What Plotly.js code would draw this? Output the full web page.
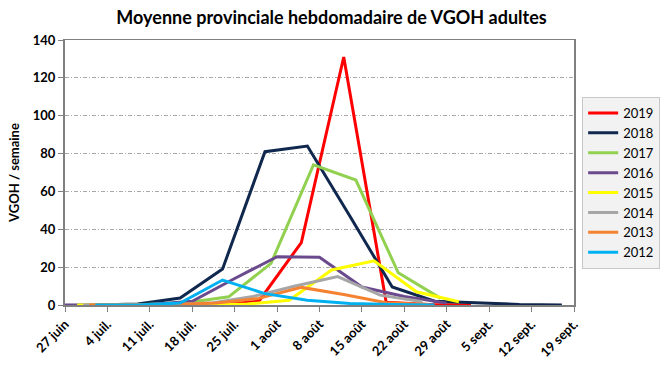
<!DOCTYPE html>
<html><head><meta charset="utf-8">
<script src="https://cdn.plot.ly/plotly-3.0.1.min.js"></script>
<style>html,body{margin:0;padding:0;background:#fff}#c{width:663px;height:367px}</style>
</head><body><div id="c"></div>
<script>
// Tick labels (weeks), positions in days since 27 June
const tickDays = [0,7,14,21,28,35,42,49,56,63,70,77,84];
const tickLabels = ['27 juin','4 juil.','11 juil.','18 juil.','25 juil.','1 août','8 août','15 août','22 août','29 août','5 sept.','12 sept.','19 sept.'];

const years = ['2019','2018','2017','2016','2015','2014','2013','2012'];

const days2019 = [25,32,39,46,53,60,67];
const vals2019 = [0,2,33,131,1.5,0.3,0];
const days2018 = [5,12,19,26,33,40,47,54,61,68,75,82];
const vals2018 = [0,0.5,3.7,19,81,84,47,9.5,2,1,0.3,0];
const days2017 = [6,13,20,27,34,41,48,55,62];
const vals2017 = [0,0.3,1.2,4.3,22,74,66,17,3.5];
const days2016 = [0,7,14,21,28,35,42,49,56,63];
const vals2016 = [0,0,0.3,2,14,25.5,25.2,9.5,4.5,1];
const days2015 = [2,9,16,23,30,37,44,51,58,65];
const vals2015 = [0,0,0,0.1,0.5,2.5,18.5,23.3,7,1.7];
const days2014 = [3,10,17,24,31,38,45,52,59];
const vals2014 = [0,0,0.2,1,4.5,10,15,5.2,1.7];
const days2013 = [4,11,18,25,32,39,46,53,60];
const vals2013 = [0,0,0.3,1,3.5,9.3,5.5,1.2,0.2];
const days2012 = [5,12,19,26,33,40,47,54,61];
const vals2012 = [0,0,1,13.2,6,2.5,0.8,0.2,0];

const allDays = [days2019,days2018,days2017,days2016,days2015,days2014,days2013,days2012];
const allVals = [vals2019,vals2018,vals2017,vals2016,vals2015,vals2014,vals2013,vals2012];
const colors = ['#ff0000','#10284d','#92d050','#6a4a8c','#ffff00','#a6a6a6','#f58231','#00b0f0'];

const traces = years.map((y,i)=>({
  type:'scatter', mode:'lines', name:y,
  x: allDays[i], y: allVals[i],
  line:{color:colors[i], width:3}
}));

const fnt = 'Lato, "Open Sans", sans-serif';
const layout = {
  width:663, height:367,
  margin:{l:65, r:89, t:40, b:62, autoexpand:false},
  paper_bgcolor:'#fff', plot_bgcolor:'#fff',
  font:{family:fnt, color:'#000', size:12},
  title:{text:'<b>Moyenne provinciale hebdomadaire de VGOH adultes</b>', font:{family:fnt, size:18, color:'#000'}, x:0.5, xanchor:'center', y:0.953, yanchor:'middle'},
  showlegend:true,
  legend:{x:1.016, xanchor:'left', y:0.785, yanchor:'top', bgcolor:'#f2f2f2', bordercolor:'#c8c8c8', borderwidth:1,
          font:{family:fnt, size:13, color:'#000'}, tracegroupgap:0, itemwidth:30},
  xaxis:{range:[0,84], tickmode:'array', tickvals:tickDays, ticktext:tickLabels.map(t=>'<b>'+t+'</b>'),
         tickangle:-45, ticks:'outside', ticklen:5, tickcolor:'#808080', showgrid:false, zeroline:false,
         showline:true, linecolor:'#808080', linewidth:1.5, mirror:true, tickfont:{family:fnt, size:13}},
  yaxis:{range:[0,140], dtick:20, ticks:'outside', ticklen:5, tickcolor:'#808080',
         showgrid:true, gridcolor:'#a8a8a8', griddash:'4px,2px,1px,2px', gridwidth:1, zeroline:false,
         showline:true, linecolor:'#808080', linewidth:2, mirror:true,
         tickfont:{family:fnt, size:13}, tickprefix:'<b>', ticksuffix:'</b>',
         title:{text:'<b>VGOH / semaine</b>', font:{family:fnt, size:13}, standoff:10}}
};
Plotly.newPlot('c', traces, layout, {displayModeBar:false, staticPlot:true});
</script></body></html>
